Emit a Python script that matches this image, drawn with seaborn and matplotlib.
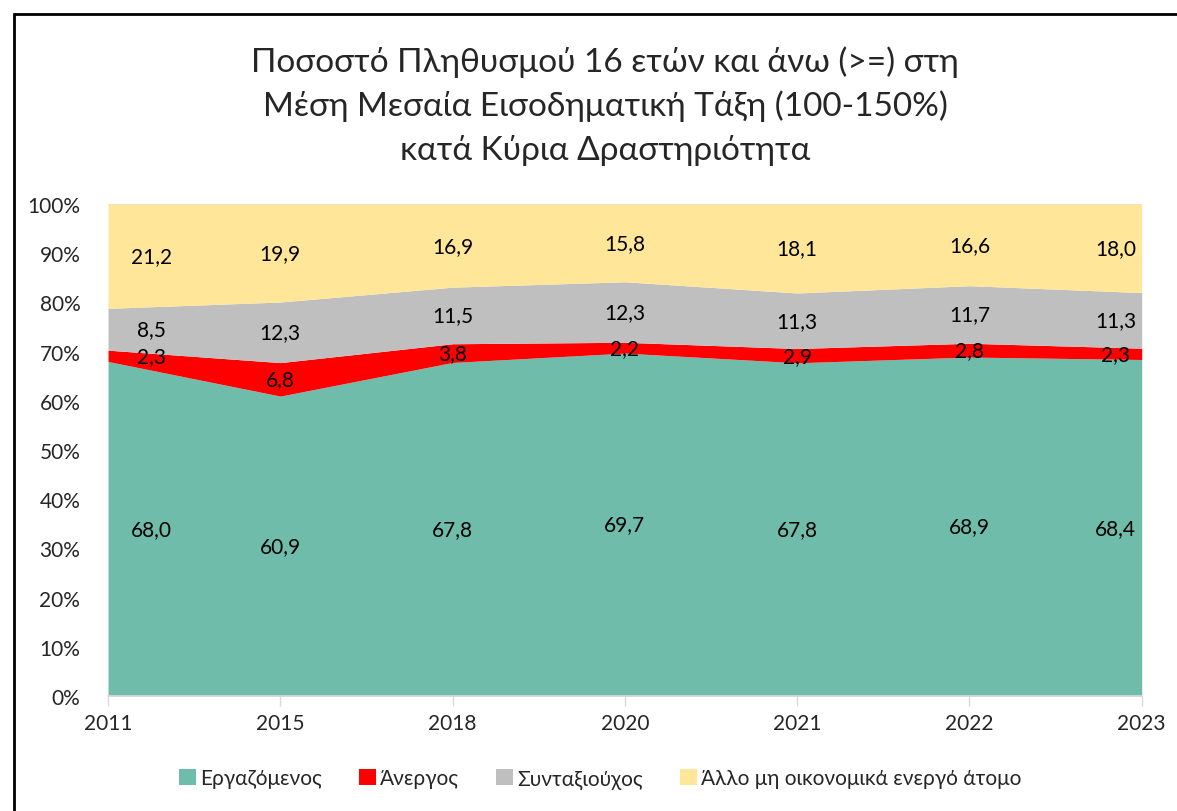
import numpy as np
import matplotlib
matplotlib.use("Agg")
from matplotlib import pyplot as plt
from matplotlib.patches import Rectangle
import seaborn as sns

years = ['2011', '2015', '2018', '2020', '2021', '2022', '2023']
employed = [68.0, 60.9, 67.8, 69.7, 67.8, 68.9, 68.4]
unemployed = [2.3, 6.8, 3.8, 2.2, 2.9, 2.8, 2.3]
pensioner = [8.5, 12.3, 11.5, 12.3, 11.3, 11.7, 11.3]
other = [21.2, 19.9, 16.9, 15.8, 18.1, 16.6, 18.0]

series_names = ['Εργαζόμενος', 'Άνεργος', 'Συνταξιούχος', 'Άλλο μη οικονομικά ενεργό άτομο']
colors = ['#70BCAB', '#FF0000', '#BFBFBF', '#FFE699']

sns.set_theme(style='white')
plt.rcParams['font.family'] = ['Lato', 'Noto Sans', 'DejaVu Sans']

fig = plt.figure(figsize=(11.77, 8.12), dpi=100)
ax = fig.add_axes([0.0918, 0.1416, 0.8782, 0.6059])

# 100% stacked, like excel does
data = np.array([employed, unemployed, pensioner, other])
share = data / data.sum(axis=0) * 100
x = np.arange(len(years))
ax.stackplot(x, share, colors=colors, labels=series_names, linewidth=0)

# value labels in the middle of each band
bottoms = np.vstack([np.zeros(len(years)), np.cumsum(share, axis=0)[:-1]])
for k in range(len(series_names)):
    for i in range(len(years)):
        xi = x[i]
        if i == 0:
            xi += 0.25
        elif i == len(years) - 1:
            xi -= 0.15
        yi = bottoms[k, i] + share[k, i] / 2
        ax.text(xi, yi, f'{data[k, i]:.1f}'.replace('.', ','), ha='center', va='center',
                fontsize=15, color='black')

ax.set_xlim(0, len(years) - 1)
ax.set_ylim(0, 100)
ax.set_xticks(x)
ax.set_xticklabels(years, fontsize=15)
ax.set_yticks(np.arange(0, 101, 10))
ax.set_yticklabels([f'{v}%' for v in range(0, 101, 10)], fontsize=15)
ax.tick_params(axis='x', which='both', bottom=True, length=7, width=1, color='#D9D9D9', pad=5)
ax.tick_params(axis='y', length=0, pad=20)
for s in ['left', 'right', 'top']:
    ax.spines[s].set_visible(False)
ax.spines['bottom'].set_color('#D9D9D9')
ax.axhline(100, color='#E5E5E5', lw=1, zorder=0)

fig.text(0.514, 0.943, 'Ποσοστό Πληθυσμού 16 ετών και άνω (>=) στη\n'
         'Μέση Μεσαία Εισοδηματική Τάξη (100-150%)\nκατά Κύρια Δραστηριότητα',
         ha='center', va='top', fontsize=24, linespacing=1.5)

handles, labels = ax.get_legend_handles_labels()
fig.legend(handles, labels, loc='center', bbox_to_anchor=(0.51, 0.04), ncol=4, frameon=False,
           fontsize=15, handlelength=0.8, handleheight=0.8, handletextpad=0.2, columnspacing=1.8)

# chart frame (only top/left edges visible in the crop)
fig.patches.append(Rectangle((14 / 1177, -0.1), 1.2, 1 - 15 / 812 + 0.1, transform=fig.transFigure,
                             fill=False, edgecolor='black', lw=2))

fig.savefig('out.png', dpi=100)
